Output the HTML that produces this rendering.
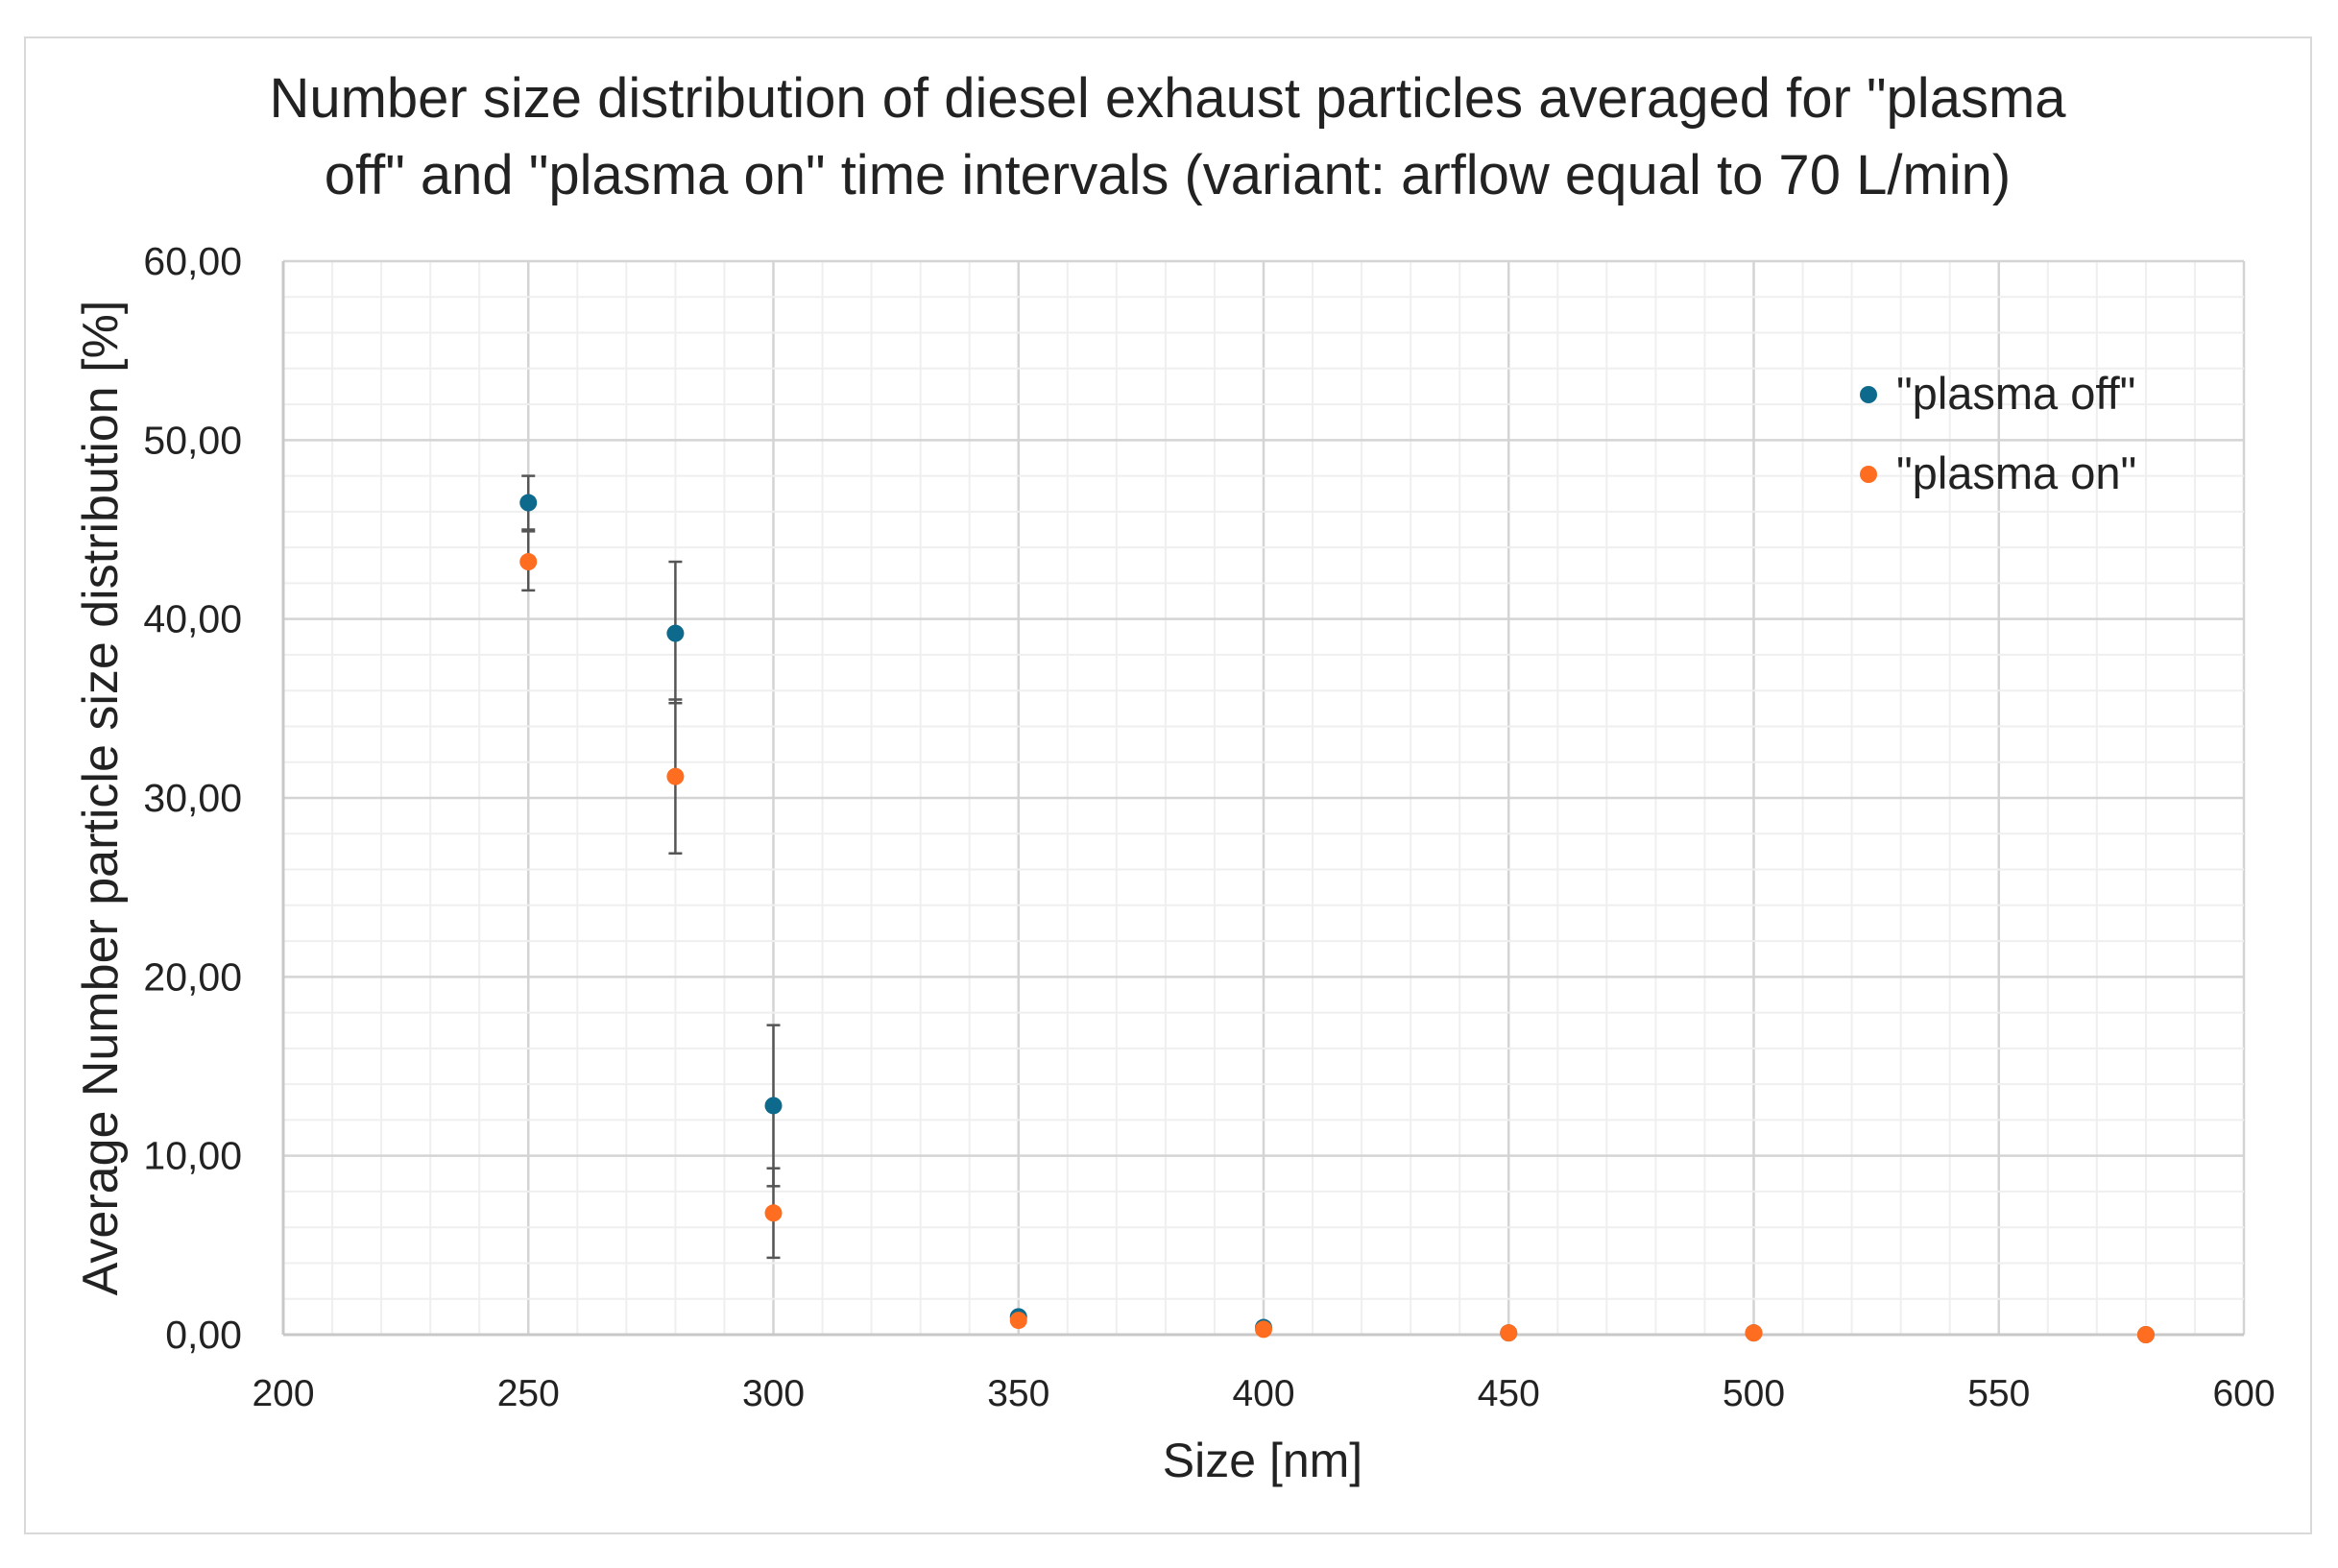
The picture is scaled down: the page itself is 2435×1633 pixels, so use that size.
<!DOCTYPE html>
<html><head><meta charset="utf-8"><style>
html,body{margin:0;padding:0;background:#fff;}
svg{display:block;font-family:"Liberation Sans",sans-serif;}
</style></head><body>
<svg id="chart" width="2435" height="1633" viewBox="0 0 2435 1633">
<rect x="26" y="39" width="2381" height="1558" fill="#fff" stroke="#d9d9d9" stroke-width="2"/>
<text x="1216" y="122" font-size="58" text-anchor="middle" fill="#222">Number size distribution of diesel exhaust particles averaged for "plasma</text>
<text x="1216" y="202" font-size="58" text-anchor="middle" fill="#222">off" and "plasma on" time intervals (variant: arflow equal to 70 L/min)</text>
<g id="grid"></g>
<g id="axes"></g>
<g id="marks"></g>
<text transform="translate(122,831) rotate(-90)" font-size="52" text-anchor="middle" fill="#222">Average Number particle size distribution [%]</text>
<text x="1315" y="1538" font-size="50" text-anchor="middle" fill="#222">Size [nm]</text>
<g>
<circle cx="1946" cy="411" r="9" fill="#0e6a8c"/>
<text x="1975" y="426" font-size="47" fill="#222">"plasma off"</text>
<circle cx="1946" cy="494" r="9" fill="#ff6d21"/>
<text x="1975" y="509" font-size="47" fill="#222">"plasma on"</text>
</g>
</svg>
<script>
const sizes = [250, 280, 300, 350, 400, 450, 500, 580];
const offValues = [46.5, 39.2, 12.8, 1.0, 0.4, 0.1, 0.1, 0.0];
const offErrLow = [45.0, 35.3, 8.3, 0, 0, 0, 0, 0];
const offErrHigh = [48.0, 43.2, 17.3, 0, 0, 0, 0, 0];
const onValues = [43.2, 31.2, 6.8, 0.8, 0.3, 0.1, 0.1, 0.0];
const onErrLow = [41.6, 26.9, 4.3, 0, 0, 0, 0, 0];
const onErrHigh = [44.9, 35.5, 9.3, 0, 0, 0, 0, 0];
const xTicks = [200, 250, 300, 350, 400, 450, 500, 550, 600];
const yTicks = [0, 10, 20, 30, 40, 50, 60];
const yTickLabels = ["0,00", "10,00", "20,00", "30,00", "40,00", "50,00", "60,00"];

const X0 = 295, X1 = 2337, Y0 = 1390, Y1 = 272;
const xs = v => X0 + (v - 200) / 400 * (X1 - X0);
const ys = v => Y0 - v / 60 * (Y0 - Y1);
const NS = "http://www.w3.org/2000/svg";
function mk(tag, attrs, parent) {
  const e = document.createElementNS(NS, tag);
  for (const k in attrs) e.setAttribute(k, attrs[k]);
  parent.appendChild(e);
  return e;
}
const grid = document.getElementById('grid');
const axes = document.getElementById('axes');
const marks = document.getElementById('marks');
for (let v = 200; v <= 600; v += 10) {
  const major = v % 50 === 0;
  const l = mk('line', {x1: xs(v), x2: xs(v), y1: Y1, y2: Y0, stroke: major ? '#d4d4d4' : '#efefef', 'stroke-width': major ? 2.5 : 2}, grid);
  
  
}
for (let v = 0; v <= 60; v += 2) {
  const major = v % 10 === 0;
  const l = mk('line', {x1: X0, x2: X1, y1: ys(v), y2: ys(v), stroke: major ? '#d4d4d4' : '#efefef', 'stroke-width': major ? 2.5 : 2}, grid);
  
  
}
const xa = mk('line', {x1: X0, x2: X1, y1: Y0, y2: Y0, stroke: '#c8c8c8', 'stroke-width': 3}, axes);


const ya = mk('line', {x1: X0, x2: X0, y1: Y1, y2: Y0, stroke: '#c8c8c8', 'stroke-width': 3}, axes);


xTicks.forEach(v => {
  const t = mk('text', {x: xs(v), y: 1464, 'font-size': 39, 'text-anchor': 'middle', fill: '#222'}, axes);
  t.textContent = v;
  
  
});
yTicks.forEach((v, i) => {
  const t = mk('text', {x: 252, y: ys(v) + 14, 'font-size': 41, 'text-anchor': 'end', fill: '#222'}, axes);
  t.textContent = yTickLabels[i];
  
  
});
function errBar(x, lo, hi) {
  if (hi - lo <= 0) return;
  const g = mk('g', {stroke: '#555', 'stroke-width': 2.5}, marks);
  
  
  mk('line', {x1: xs(x), x2: xs(x), y1: ys(lo), y2: ys(hi)}, g);
  mk('line', {x1: xs(x) - 7, x2: xs(x) + 7, y1: ys(lo), y2: ys(lo)}, g);
  mk('line', {x1: xs(x) - 7, x2: xs(x) + 7, y1: ys(hi), y2: ys(hi)}, g);
}
sizes.forEach((s, i) => { errBar(s, offErrLow[i], offErrHigh[i]); errBar(s, onErrLow[i], onErrHigh[i]); });
sizes.forEach((s, i) => {
  const c = mk('circle', {cx: xs(s), cy: ys(offValues[i]), r: 9, fill: '#0e6a8c'}, marks);
  
  
});
sizes.forEach((s, i) => {
  const c = mk('circle', {cx: xs(s), cy: ys(onValues[i]), r: 9, fill: '#ff6d21'}, marks);
  
  
});
</script>
</body></html>
